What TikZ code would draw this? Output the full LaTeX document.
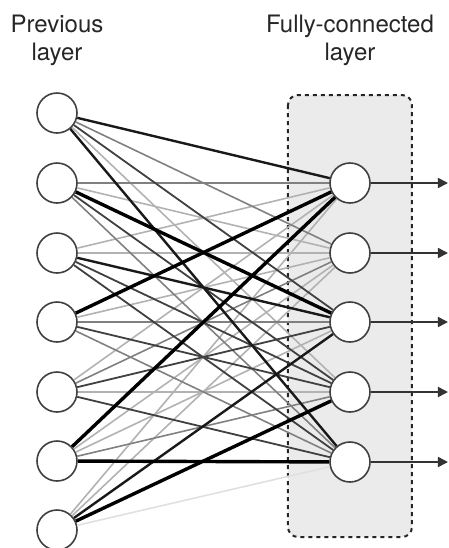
\documentclass[tikz,border=0pt]{standalone}
\usepackage{fontspec}
\setmainfont{TeX Gyre Heros}
\usetikzlibrary{arrows.meta}

\tikzset{
  neuron/.style={circle, draw=black!75, line width=0.8pt, fill=white, minimum size=20pt, inner sep=0pt},
  title/.style={align=center, anchor=north, inner sep=0pt, text=black!85, font=\fontsize{12}{14}\selectfont},
  layerbox/.style={fill=black!8, draw=black!85, line width=1pt, dash pattern=on 2pt off 2pt, rounded corners=5pt},
  faint/.style={draw=black!12, line width=0.8pt},
  light/.style={draw=black!30, line width=0.8pt},
  mid/.style={draw=black!50, line width=0.8pt},
  dark/.style={draw=black!75, line width=0.9pt},
  strong/.style={draw=black!90, line width=1.2pt},
  heavy/.style={draw=black, line width=1.7pt},
  output/.style={draw=black!80, line width=0.8pt, -{Triangle[length=5pt,width=5pt]}}
}

\begin{document}
\begin{tikzpicture}[x=0.5pt, y=-0.5pt]
    \useasboundingbox (0,0) rectangle (449,548);
    %% headings
    \node[title] (prevtitle) at (57,14.5) {Previous\\layer};
    \node[title] (fctitle) at (350,14.5) {Fully-connected\\layer};
    %% shaded box round the fully-connected layer
    \draw[layerbox] (288,95) rectangle (412,537);
    %% previous layer
    \node[neuron] (p1) at (57,113) {};
    \node[neuron] (p2) at (57,183) {};
    \node[neuron] (p3) at (57,253) {};
    \node[neuron] (p4) at (57,322) {};
    \node[neuron] (p5) at (57,392) {};
    \node[neuron] (p6) at (57,461) {};
    \node[neuron] (p7) at (57,530) {};
    %% fully-connected layer
    \node[neuron] (f1) at (350,183) {};
    \node[neuron] (f2) at (350,253) {};
    \node[neuron] (f3) at (350,322) {};
    \node[neuron] (f4) at (350,392) {};
    \node[neuron] (f5) at (350,462) {};
    %% weights, lightest first so dark ones lie on top
    \path (p7) edge[faint] (f5);
    \path[every edge/.style={light}] (p1) edge (f4) (p2) edge (f2) (p3) edge (f1) (p3) edge (f2)
        (p4) edge (f2) (p5) edge (f1) (p5) edge (f4) (p6) edge (f2) (p6) edge (f3)
        (p7) edge (f1) (p7) edge (f2);
    \path[every edge/.style={mid}] (p1) edge (f2) (p2) edge (f1) (p2) edge (f5) (p4) edge (f3)
        (p4) edge (f5) (p5) edge (f2) (p6) edge (f4);
    \path[every edge/.style={dark}] (p1) edge (f3) (p2) edge (f4) (p3) edge (f4) (p3) edge (f5)
        (p4) edge (f4) (p5) edge (f3) (p5) edge (f5);
    \path[every edge/.style={strong}] (p1) edge (f1) (p1) edge (f5) (p3) edge (f3) (p7) edge (f3);
    \path[every edge/.style={heavy}] (p2) edge (f3) (p4) edge (f1) (p6) edge (f1) (p6) edge (f5)
        (p7) edge (f4);
    %% outputs
    \coordinate (o1) at (448,183);
    \coordinate (o2) at (448,253);
    \coordinate (o3) at (448,322);
    \coordinate (o4) at (448,392);
    \coordinate (o5) at (448,462);
    \draw[output] (f1) -- (o1);
    \draw[output] (f2) -- (o2);
    \draw[output] (f3) -- (o3);
    \draw[output] (f4) -- (o4);
    \draw[output] (f5) -- (o5);
\end{tikzpicture}
\end{document}
